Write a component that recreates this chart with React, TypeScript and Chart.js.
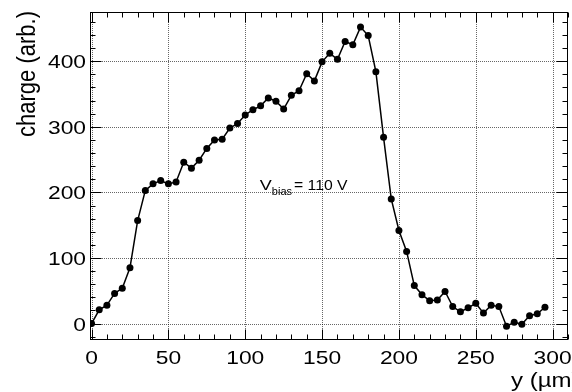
import React, { useEffect, useRef } from "react";
import { Chart, registerables } from "chart.js";

Chart.register(...registerables);

const positions = [
  0, 5, 10, 15, 20, 25, 30, 35, 40, 45, 50, 55, 60, 65, 70, 75, 80, 85, 90, 95,
  100, 105, 110, 115, 120, 125, 130, 135, 140, 145, 150, 155, 160, 165, 170, 175, 180, 185, 190, 195,
  200, 205, 210, 215, 220, 225, 230, 235, 240, 245, 250, 255, 260, 265, 270, 275, 280, 285, 290, 295,
];
const charge = [
  0, 21, 28, 46, 54, 85, 157, 203, 213, 218, 213, 216, 246, 237, 249, 267, 280, 281, 298, 305,
  318, 326, 332, 344, 339, 327, 348, 355, 381, 370, 399, 412, 403, 430, 425, 452, 439, 384, 284, 190,
  142, 110, 58, 44, 35, 36, 49, 26, 18, 24, 31, 16, 28, 26, -4, 2, -1, 12, 15, 25,
];

const xTickLabels = [0, 50, 100, 150, 200, 250, 300];
const yTickLabels = [0, 100, 200, 300, 400];
const xMinorStep = 10;
const yMinorStep = 20;
const xTitle = "y (µm)";
const yTitle = "charge (arb.)";
const noteMain = "V";
const noteSub = "bias";
const noteRest = "= 110 V";

const FONT = '"Liberation Sans", Arial, Helvetica, sans-serif';
const SX = 1.2;

function stretchedText(
  ctx: CanvasRenderingContext2D,
  text: string,
  x: number,
  y: number,
  size: number,
  align: CanvasTextAlign,
  sx: number = SX
) {
  ctx.save();
  ctx.translate(x, y);
  ctx.scale(sx, 1);
  ctx.font = `${size}px ${FONT}`;
  ctx.textAlign = align;
  ctx.textBaseline = "alphabetic";
  ctx.fillStyle = "#000";
  ctx.fillText(text, 0, 0);
  const w = ctx.measureText(text).width * sx;
  ctx.restore();
  return w;
}

const rootPlugin = {
  id: "rootFrame",
  beforeDatasetsDraw(chart: any) {
    const { ctx, chartArea: a, scales } = chart;
    const xs = scales.x;
    const ys = scales.y;
    ctx.save();
    ctx.strokeStyle = "rgba(0,0,0,0.6)";
    ctx.lineWidth = 1;
    ctx.setLineDash([1, 1]);
    for (const v of xTickLabels) {
      const px = Math.round(xs.getPixelForValue(v)) + 0.5;
      ctx.beginPath();
      ctx.moveTo(px, a.top);
      ctx.lineTo(px, a.bottom);
      ctx.stroke();
    }
    for (const v of yTickLabels) {
      const py = Math.round(ys.getPixelForValue(v)) + 0.5;
      ctx.beginPath();
      ctx.moveTo(a.left, py);
      ctx.lineTo(a.right, py);
      ctx.stroke();
    }
    ctx.restore();
  },
  afterDatasetsDraw(chart: any) {
    const { ctx, chartArea: a, scales } = chart;
    const xs = scales.x;
    const ys = scales.y;
    const L = Math.round(a.left) + 0.5;
    const R = Math.round(a.right) - 0.5;
    const T = Math.round(a.top) + 0.5;
    const B = Math.round(a.bottom) - 0.5;
    ctx.save();
    ctx.strokeStyle = "#000";
    ctx.lineWidth = 1;
    ctx.setLineDash([]);
    ctx.strokeRect(L, T, R - L, B - T);
    for (let v = Math.ceil(xs.min / xMinorStep) * xMinorStep; v <= xs.max; v += xMinorStep) {
      const major = xTickLabels.includes(v);
      const px = Math.round(xs.getPixelForValue(v)) + 0.5;
      const len = major ? 10 : 5;
      ctx.beginPath();
      ctx.moveTo(px, B);
      ctx.lineTo(px, B - len);
      ctx.moveTo(px, T);
      ctx.lineTo(px, T + len);
      ctx.stroke();
    }
    for (let v = Math.ceil(ys.min / yMinorStep) * yMinorStep; v <= ys.max; v += yMinorStep) {
      const major = yTickLabels.includes(v);
      const py = Math.round(ys.getPixelForValue(v)) + 0.5;
      const len = major ? 11 : 5;
      ctx.beginPath();
      ctx.moveTo(L, py);
      ctx.lineTo(L + len, py);
      ctx.moveTo(R, py);
      ctx.lineTo(R - len, py);
      ctx.stroke();
    }
    ctx.restore();

    for (const v of xTickLabels) {
      stretchedText(ctx, String(v), xs.getPixelForValue(v), a.bottom + 24, 19, "center");
    }
    for (const v of yTickLabels) {
      stretchedText(ctx, String(v), a.left - 4, ys.getPixelForValue(v) + 7, 19, "right");
    }

    stretchedText(ctx, xTitle, 511, 387, 20, "left");
    ctx.save();
    ctx.translate(35, a.top - 1);
    ctx.rotate(-Math.PI / 2);
    ctx.scale(1, SX);
    ctx.font = `22px ${FONT}`;
    ctx.textAlign = "right";
    ctx.textBaseline = "alphabetic";
    ctx.fillStyle = "#000";
    ctx.fillText(yTitle, 0, 0);
    ctx.restore();

    let nx = xs.getPixelForValue(109.5);
    const ny = ys.getPixelForValue(203);
    nx += stretchedText(ctx, noteMain, nx, ny, 15, "left");
    nx += stretchedText(ctx, noteSub, nx, ny + 5, 10, "left", 1.1);
    stretchedText(ctx, noteRest, nx + 2, ny, 15, "left", 1.05);
  },
};

export default function App() {
  const ref = useRef<HTMLCanvasElement | null>(null);
  useEffect(() => {
    if (!ref.current) return;
    const chart = new Chart(ref.current, {
      type: "line",
      data: {
        datasets: [
          {
            data: positions.map((x, i) => ({ x, y: charge[i] })),
            borderColor: "#000",
            backgroundColor: "#000",
            borderWidth: 1.5,
            pointRadius: 3.5,
            pointBorderWidth: 0,
            pointBackgroundColor: "#000",
            tension: 0,
          },
        ],
      },
      options: {
        animation: false,
        responsive: false,
        devicePixelRatio: 1,
        layout: { padding: { top: 12, right: 1, left: 0, bottom: 0 } },
        plugins: { legend: { display: false }, tooltip: { enabled: false } },
        scales: {
          x: {
            type: "linear",
            min: -1,
            max: 310,
            grid: { display: false },
            border: { display: false },
            ticks: { display: false },
            afterFit: (s: any) => {
              s.height = 52;
            },
          },
          y: {
            type: "linear",
            min: -25,
            max: 475,
            grid: { display: false },
            border: { display: false },
            ticks: { display: false },
            afterFit: (s: any) => {
              s.width = 90;
            },
          },
        },
      },
      plugins: [rootPlugin],
    });
    return () => chart.destroy();
  }, []);
  return (
    <div style={{ position: "fixed", left: 0, top: 0, width: 572, height: 392, background: "#fff" }}>
      <canvas ref={ref} width={572} height={392} />
    </div>
  );
}
